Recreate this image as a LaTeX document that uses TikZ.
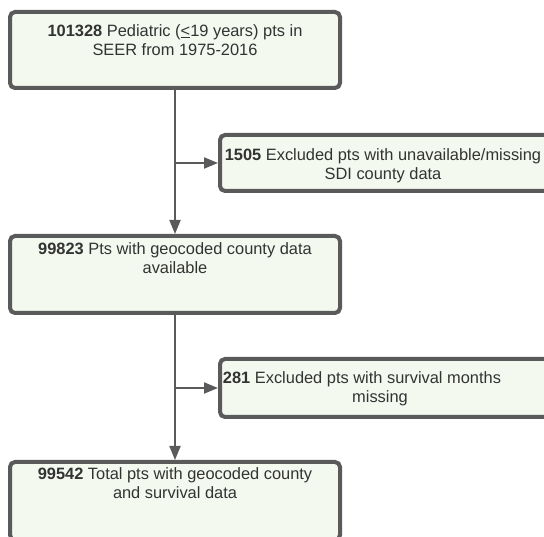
\documentclass[tikz,border=0pt]{standalone}
\usepackage{fontspec}
\setmainfont{Liberation Sans}
\usetikzlibrary{arrows.meta}
\definecolor{boxline}{HTML}{5A5A5A}
\definecolor{boxfill}{HTML}{F3F9EF}
\definecolor{txtcol}{HTML}{333333}
\newcommand{\topstrut}{\rule{0pt}{13pt}}
\begin{document}
\begin{tikzpicture}[x=1pt,y=1pt,
  flowbox/.style={draw=boxline, line width=4pt, fill=boxfill, rounded corners=5pt,
    minimum width=330pt, inner sep=0pt},
  flowtext/.style={text=txtcol, font=\fontsize{16.4}{19.8}\selectfont, align=center,
    inner sep=0pt, anchor=north},
  conn/.style={draw=boxline, line width=2pt, -{Triangle[length=14pt,width=11pt]}}]
\useasboundingbox (0,0) rectangle (544,537);
\fill[white] (0,0) rectangle (544,537);
% main boxes
\node[flowbox, minimum height=76pt] (b1) at (175,487) {};
\node[flowbox, minimum height=77pt] (b3) at (175,262.5) {};
\node[flowbox, minimum height=78pt] (b5) at (175,36) {};
% side boxes
\node[flowbox, minimum height=56pt] (b2) at (385,374) {};
\node[flowbox, minimum height=58pt] (b4) at (385,149) {};
% texts
\node[flowtext] (t1) at (175,514) {\topstrut\textbf{101328} Pediatric (\underline{<}19 years) pts in\\SEER from 1975-2016};
\node[flowtext] (t3) at (175,296) {\topstrut\textbf{99823} Pts with geocoded county data\\available};
\node[flowtext] (t5) at (175,71) {\topstrut\textbf{99542} Total pts with geocoded county\\and survival data};
\node[flowtext] (t2) at (383,390) {\topstrut\textbf{1505} Excluded pts with unavailable/missing\\SDI county data};
\node[flowtext] (t4) at (380,167) {\topstrut\textbf{281} Excluded pts with survival months\hspace*{36pt}\\missing};
% connectors
\draw[conn] (b1.south) -- (b3.north);
\coordinate (j1) at (b1.south |- b2.west);
\draw[conn] (j1) -- (b2.west);
\draw[conn] (b3.south) -- (b5.north);
\coordinate (j2) at (b3.south |- b4.west);
\draw[conn] (j2) -- (b4.west);
\end{tikzpicture}
\end{document}
